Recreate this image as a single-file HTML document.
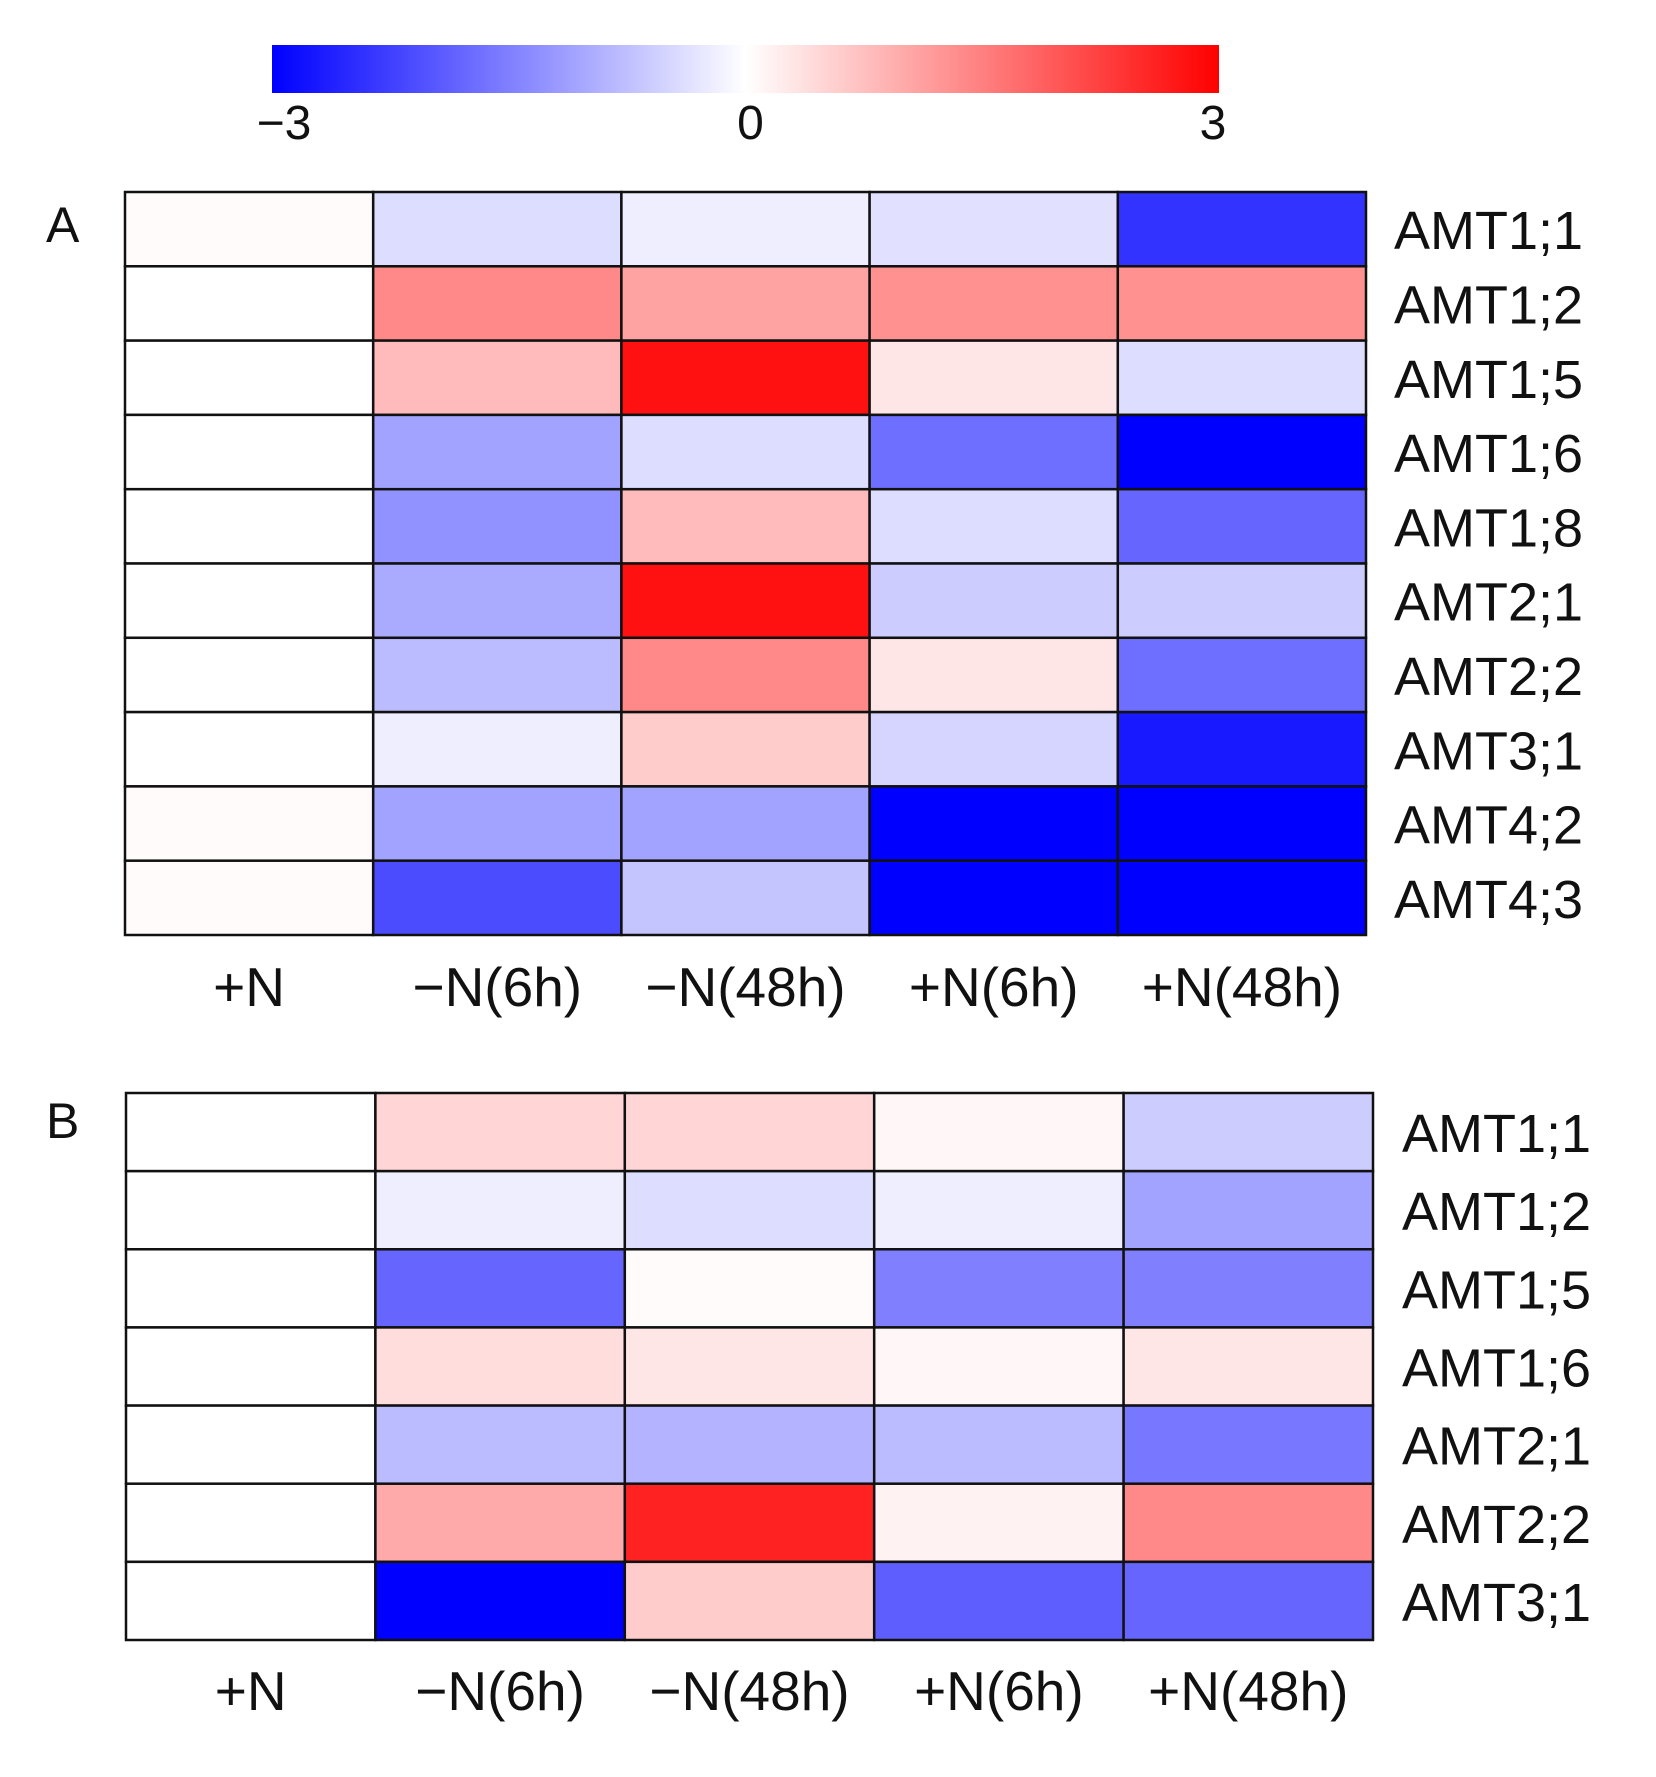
<!DOCTYPE html>
<html><head><meta charset="utf-8"><style>
html,body{margin:0;padding:0;background:#fff;}
svg text{font-family:"Liberation Sans",sans-serif;fill:#111;}
</style></head><body>
<svg id="chart" width="1656" height="1772" viewBox="0 0 1656 1772" xmlns="http://www.w3.org/2000/svg">
<defs><linearGradient id="cb" x1="0" x2="1" y1="0" y2="0">
<stop offset="0" stop-color="#0000ff"/><stop offset="0.5" stop-color="#ffffff"/><stop offset="1" stop-color="#ff0000"/></linearGradient></defs>
<rect x="272" y="45" width="947" height="48" fill="url(#cb)"/>
<g id="cbticks"></g>
<g id="panelA"></g>
<g id="panelB"></g>
</svg>
<script>
const cbTicks = [-3, 0, 3];
const conditions = ["+N", "\u2212N(6h)", "\u2212N(48h)", "+N(6h)", "+N(48h)"];
const genesA = ["AMT1;1","AMT1;2","AMT1;5","AMT1;6","AMT1;8","AMT2;1","AMT2;2","AMT3;1","AMT4;2","AMT4;3"];
const valuesA = [
 [0.05,-0.4,-0.2,-0.35,-2.4],
 [0,1.4,1.1,1.3,1.3],
 [0,0.8,2.8,0.3,-0.4],
 [0,-1.1,-0.4,-1.7,-3],
 [0,-1.3,0.8,-0.4,-1.8],
 [0,-1.0,2.8,-0.6,-0.6],
 [0,-0.8,1.4,0.3,-1.7],
 [0,-0.2,0.6,-0.5,-2.7],
 [0.05,-1.1,-1.1,-3,-3],
 [0.05,-2.1,-0.7,-3,-3]
];
const genesB = ["AMT1;1","AMT1;2","AMT1;5","AMT1;6","AMT2;1","AMT2;2","AMT3;1"];
const valuesB = [
 [0,0.5,0.5,0.1,-0.6],
 [0,-0.2,-0.4,-0.2,-1.1],
 [0,-1.8,0.05,-1.5,-1.5],
 [0,0.4,0.3,0.1,0.3],
 [0,-0.8,-0.9,-0.8,-1.6],
 [0,1.0,2.6,0.15,1.4],
 [0,-3,0.6,-1.9,-1.8]
];
const NS="http://www.w3.org/2000/svg";
function colorOf(v){
  const t=Math.max(-1,Math.min(1,v/3));
  let r,g,b;
  if(t<0){const k=-t;r=Math.round(255*(1-k));g=r;b=255;}
  else{const k=t;r=255;g=Math.round(255*(1-k));b=g;}
  return `rgb(${r},${g},${b})`;
}
function mk(tag,attrs,parent){const e=document.createElementNS(NS,tag);for(const k in attrs)e.setAttribute(k,attrs[k]);parent.appendChild(e);return e;}
const cbg=document.getElementById('cbticks');
const cbx=v=>272+(v+3)/6*947;
cbTicks.forEach(v=>{
  const t=mk('text',{x:cbx(v)+(v===-3?12:(v===3?-6:5)),y:139,'text-anchor':'middle','font-size':48},cbg);
  
  
  t.textContent=v<0?"\u2212"+Math.abs(v):String(v);
});
function panel(gid,letter,ly,genes,vals,x0,x1,y0,y1,labX,colLabY){
  const g=document.getElementById(gid);
  const nc=conditions.length,nr=genes.length;
  const cw=(x1-x0)/nc,rh=(y1-y0)/nr;
  const xs=i=>x0+i*cw, ys=j=>y0+j*rh;
  const L=mk('text',{x:46,y:ly,'font-size':50},g);
  
  
  L.textContent=letter;
  vals.forEach((row,j)=>row.forEach((v,i)=>{
    const r=mk('rect',{x:xs(i),y:ys(j),width:cw,height:rh,fill:colorOf(v),stroke:'#111','stroke-width':2.5},g);
    
    
  }));
  genes.forEach((n,j)=>{
    const t=mk('text',{x:labX,y:ys(j)+rh/2+20,'font-size':54},g);
    
    
    t.textContent=n;
  });
  conditions.forEach((c,i)=>{
    const t=mk('text',{x:xs(i)+cw/2,y:colLabY,'text-anchor':'middle','font-size':55},g);
    
    
    t.textContent=c;
  });
}
panel('panelA','A',242,genesA,valuesA,125,1366,192,935,1394,1006);
panel('panelB','B',1138,genesB,valuesB,126,1373,1093,1640,1402,1710);
</script>
</body></html>
